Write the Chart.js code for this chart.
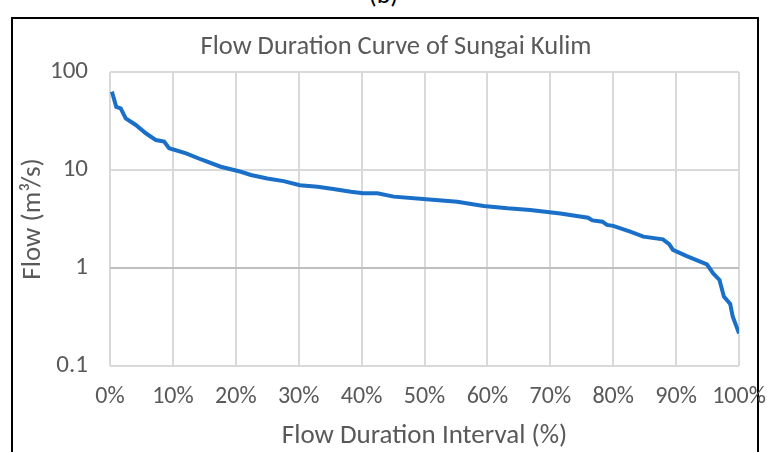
<!DOCTYPE html>
<html>
<head>
<meta charset="utf-8">
<script src="https://cdn.jsdelivr.net/npm/chart.js@4"></script>
<style>
  body { margin: 0; background: #fff; }
  #wrap { position: relative; width: 767px; height: 452px; overflow: hidden; }
  #frame { position: absolute; left: 11px; top: 17px; width: 744px; height: 460px; border: 2px solid #000; }
  #cap { position: absolute; left: 0; width: 767px; top: -22px; text-align: center;
         font: 26px Carlito, "Open Sans", sans-serif; color: #000; }
  canvas { position: absolute; left: 0; top: 0; }
</style>
</head>
<body>
<div id="wrap">
  <div id="cap">(b)</div>
  <div id="frame"></div>
  <canvas id="fdc" width="767" height="452"></canvas>
</div>
<script>
const chartTitle = 'Flow Duration Curve of Sungai Kulim';
const xTitle = 'Flow Duration Interval (%)';
const yTitle = 'Flow (m³/s)';

// exceedance percent and flow
const exceedance = [0.3, 1.0, 1.7, 2.5, 4.1, 5.7, 7.3, 8.6, 9.4, 12.1, 14.5, 17.6, 20.8, 22.4, 25.0,
  27.6, 30.2, 33.0, 35.5, 38.3, 40.2, 42.5, 45.1, 49.8, 55.2, 59.4, 63.2, 66.8, 71.6, 76.0, 76.7,
  78.3, 79.0, 80.0, 82.7, 84.8, 87.9, 88.9, 89.5, 91.7, 94.9, 95.9, 96.9, 97.6, 98.6, 99.0, 100];
const flow = [63, 44, 42.6, 33.7, 28.8, 23.7, 20.2, 19.5, 16.7, 14.8, 12.8, 10.8, 9.6, 8.9, 8.2,
  7.7, 7.0, 6.76, 6.4, 6.0, 5.78, 5.78, 5.35, 5.06, 4.75, 4.3, 4.07, 3.91, 3.6, 3.26, 3.06,
  2.97, 2.75, 2.69, 2.35, 2.09, 1.96, 1.75, 1.53, 1.32, 1.09, 0.88, 0.755, 0.51, 0.43, 0.32, 0.215];

const yTicks = [0.1, 1, 10, 100];
const xTickStep = 10;

const fontFam = 'Carlito, "Open Sans", sans-serif';
const grey = '#595959';

// title is drawn by hand so it can sit where Excel put it
const titlePlugin = {
  id: 'fdcTitle',
  afterDraw(chart) {
    const ctx = chart.ctx;
    ctx.save();
    ctx.font = '26.5px ' + fontFam;
    ctx.fillStyle = grey;
    ctx.textAlign = 'center';
    ctx.textBaseline = 'middle';
    ctx.fillText(chartTitle, 396, 47);
    ctx.restore();
  }
};

new Chart(document.getElementById('fdc'), {
  type: 'line',
  data: {
    datasets: [{
      data: exceedance.map((x, i) => ({ x: x, y: flow[i] })),
      borderColor: '#1a6fc8',
      borderWidth: 4,
      pointRadius: 0,
      tension: 0,
      fill: false
    }]
  },
  options: {
    responsive: false,
    animation: false,
    layout: { padding: { left: 14, right: 28, top: 72, bottom: 0 } },
    plugins: {
      legend: { display: false },
      title: { display: false },
      tooltip: { enabled: false }
    },
    scales: {
      x: {
        type: 'linear',
        min: 0,
        max: 100,
        ticks: {
          stepSize: xTickStep,
          color: grey,
          font: { family: fontFam, size: 24 },
          padding: 17,
          maxRotation: 0,
          autoSkip: false,
          callback: v => v + '%'
        },
        grid: { color: '#d9d9d9', lineWidth: 2, drawTicks: false },
        border: { display: false },
        title: { display: true, text: xTitle, color: grey, font: { family: fontFam, size: 27 }, padding: { bottom: 0 } },
        afterFit(scale) {
          scale.height = 86;
          scale.paddingLeft = 0;
          scale.paddingRight = 0;
        }
      },
      y: {
        type: 'logarithmic',
        min: 0.1,
        max: 100,
        afterBuildTicks(scale) { scale.ticks = yTicks.map(v => ({ value: v })); },
        ticks: {
          color: grey,
          font: { family: fontFam, size: 25 },
          padding: 22,
          callback: v => String(v)
        },
        grid: {
          color: c => (c.tick && c.tick.value === 1 ? '#bfbfbf' : '#d9d9d9'),
          lineWidth: 2,
          drawTicks: false
        },
        border: { display: false },
        title: { display: true, text: yTitle, color: grey, font: { family: fontFam, size: 27 }, padding: { top: 3 } },
        afterFit(scale) {
          scale.width = 96;
          scale.paddingTop = 0;
          scale.paddingBottom = 0;
        }
      }
    }
  },
  plugins: [titlePlugin]
});
</script>
</body>
</html>
